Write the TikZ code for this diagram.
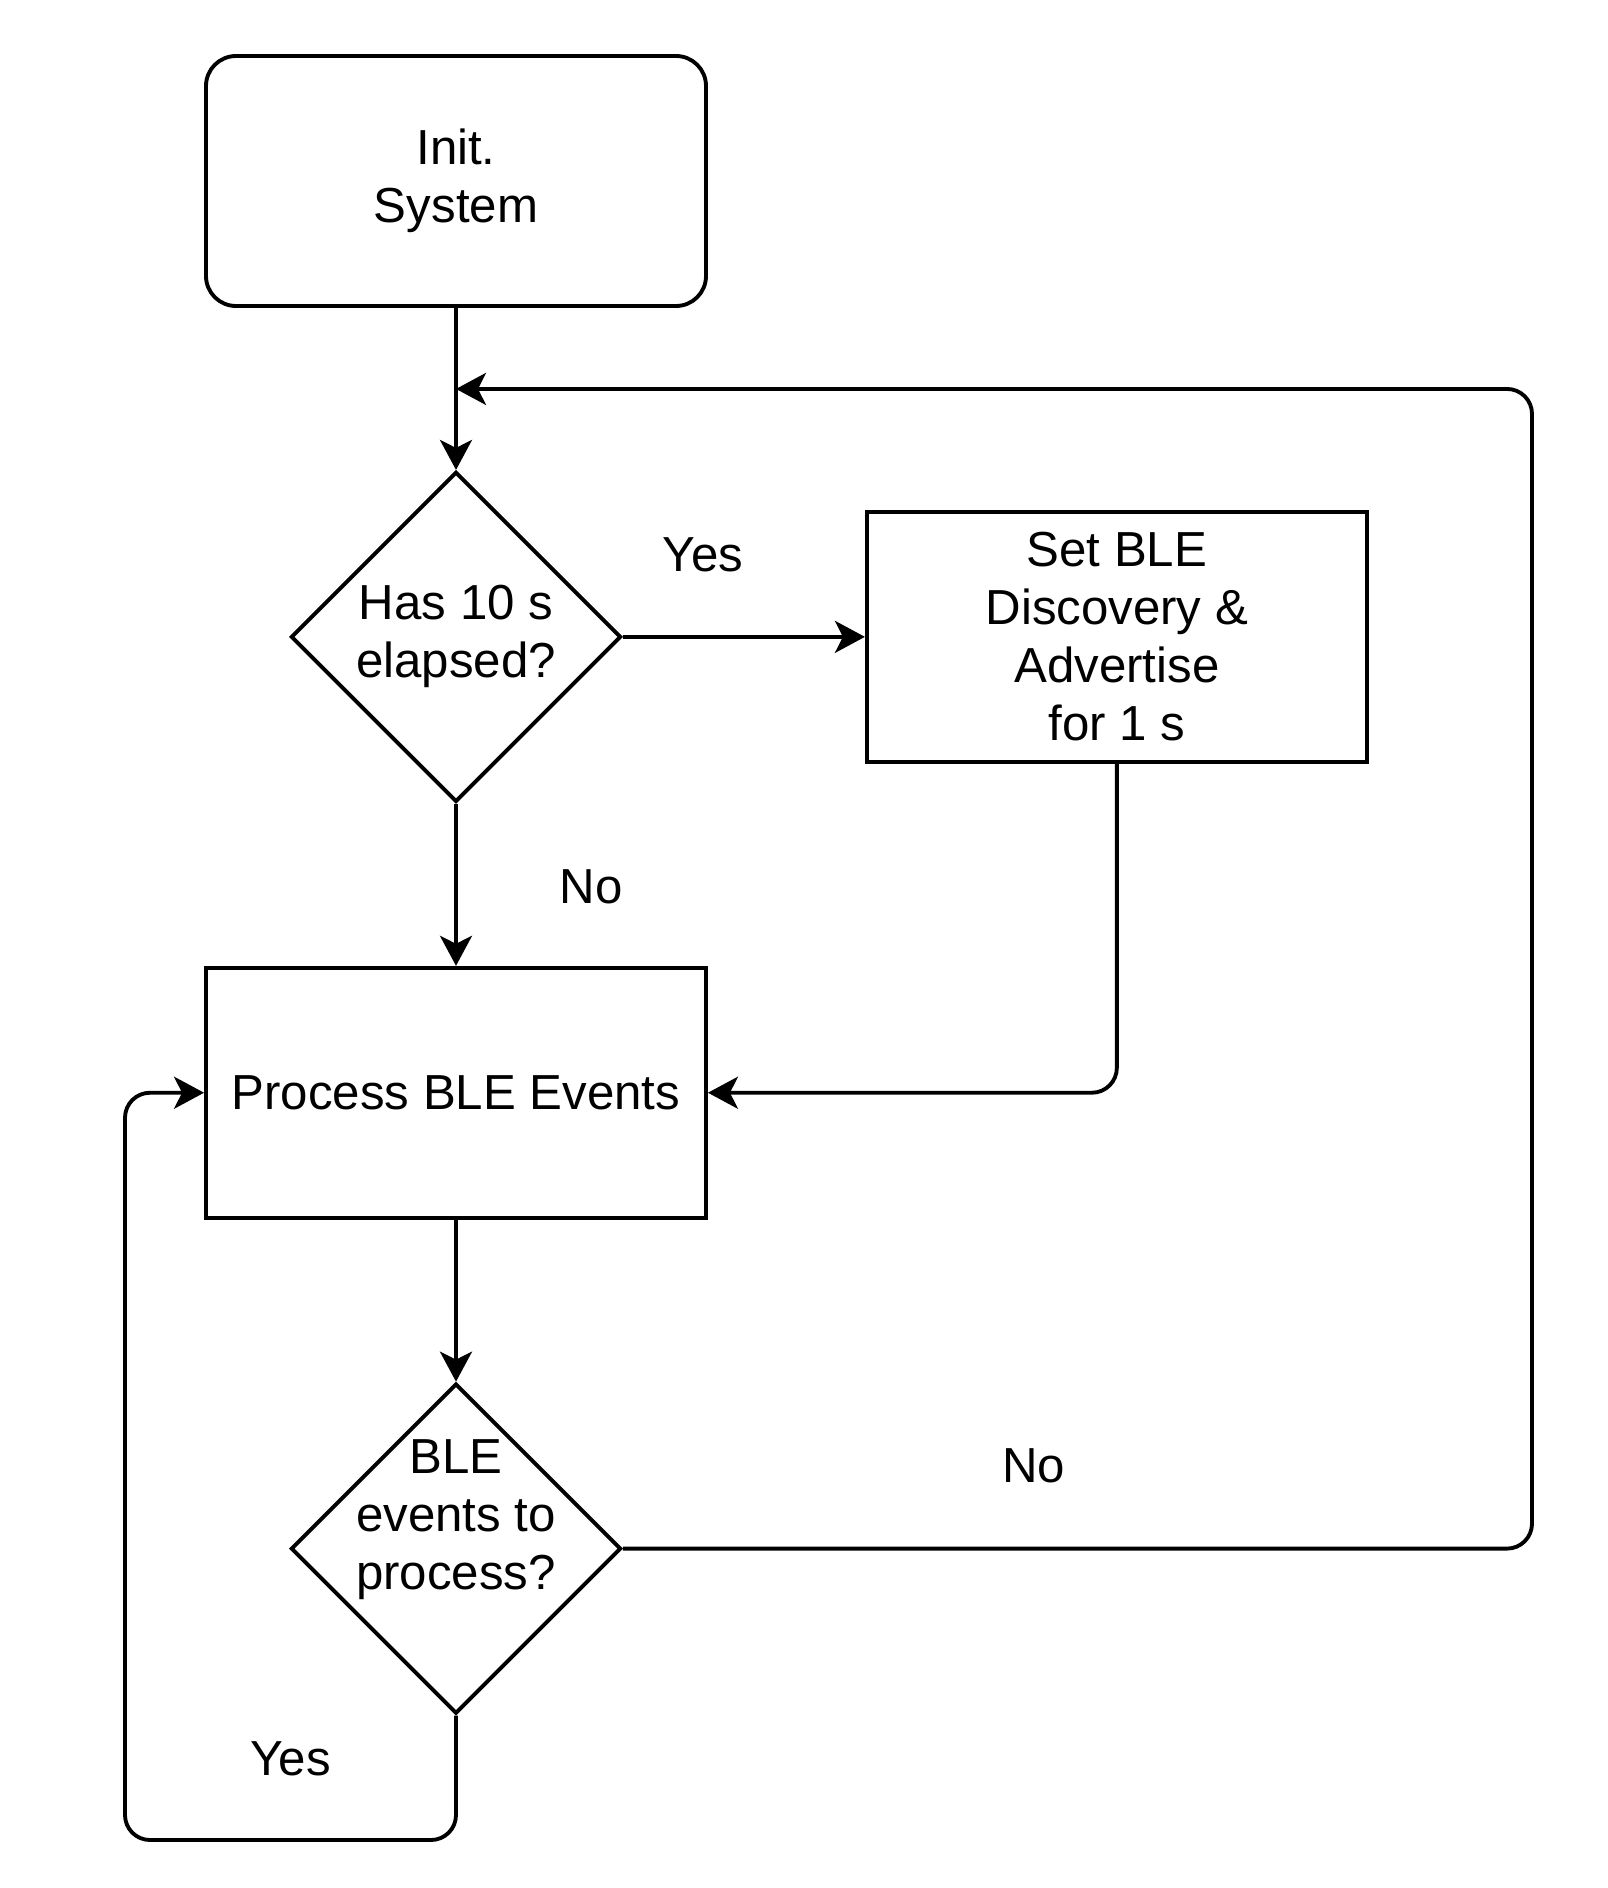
\documentclass[tikz,border=0pt]{standalone}
\usepackage{fontspec}
\setmainfont{Liberation Sans}
\usetikzlibrary{positioning, shapes.geometric, arrows.meta, calc}

\begin{document}
\begin{tikzpicture}[
    node distance=1.62cm,
    line width=1.1pt,
    font=\fontsize{14}{16.5}\selectfont,
    flownode/.style={rectangle, draw, minimum width=5cm, minimum height=2.5cm, align=center},
    initbox/.style={flownode, rounded corners=0.3cm},
    actionbox/.style={flownode},
    decision/.style={diamond, draw, aspect=1, minimum width=3.3cm, minimum height=3.3cm,
        inner sep=0pt, align=center},
    flow/.style={-{Stealth[length=0.3cm, width=0.32cm, inset=0.08cm]}},
    loopline/.style={flow, rounded corners=0.25cm}
]
\useasboundingbox (0,0) rectangle (16.08,-18.88);

% Start of the program
\node[initbox] (init) at (4.56,-1.81) {Init.\\System};

% Timer check and BLE window
\node[decision, below=of init] (check) {Has 10 s\\elapsed?};
\node[actionbox, right=2.42cm of check] (setble) {Set BLE\\Discovery \&\\Advertise\\for 1 s};

% Event handling
\node[actionbox, below=of check] (events) {Process BLE Events};
\node[decision, below=of events,
    label={[align=center, yshift=0.29cm]center:BLE\\events to\\process?}] (pending) {};

% Helper points for the loops
\coordinate (merge) at ($(init.south)!0.5!(check.north)$);
\coordinate (loopright) at (15.32,0);
\coordinate (yescorner) at (1.25,-18.40);

% Edges and annotations
\draw[flow] (init) -- (check);
\draw[flow] (check) -- node[pos=0.33, yshift=0.82cm] {Yes} (setble);
\draw[flow] (check) -- node[pos=0.51, xshift=1.35cm] {No} (events);
\draw[loopline] (setble.south) |- (events.east);
\draw[flow] (events) -- (pending);
\draw[loopline] (pending.east) -| node[pos=0.226, yshift=0.83cm] {No} (loopright |- merge) -- (merge);
\draw[loopline] (pending.south) |- node[pos=0.75, yshift=0.81cm] {Yes} (yescorner) |- (events.west);

\end{tikzpicture}
\end{document}
